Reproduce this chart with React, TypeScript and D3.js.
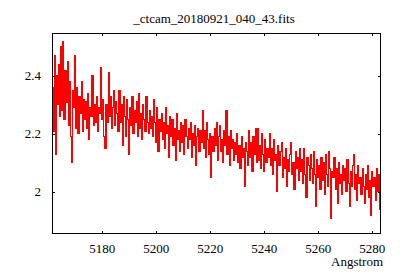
import React, { useMemo } from "react";
import * as d3 from "d3";

const TITLE = "_ctcam_20180921_040_43.fits";
const X_LABEL = "Angstrom";
const X_START = 5161.6;
const X_STEP = 0.4;
const X_DOMAIN = [5161.4, 5283.2];
const Y_DOMAIN = [1.855, 2.548];
const X_TICKS = [5180, 5200, 5220, 5240, 5260, 5280];
const Y_TICKS = [2.0, 2.2, 2.4];

const FLUX = [
  2.36, 2.21, 2.47, 2.13, 2.40, 2.30, 2.44, 2.26, 2.50, 2.28,
  2.52, 2.25, 2.42, 2.31, 2.45, 2.23, 2.38, 2.19, 2.10, 2.35,
  2.29, 2.47, 2.22, 2.36, 2.20, 2.33, 2.27, 2.38, 2.21, 2.32,
  2.25, 2.31, 2.22, 2.34, 2.18, 2.29, 2.26, 2.40, 2.23, 2.30,
  2.24, 2.33, 2.21, 2.29, 2.27, 2.43, 2.25, 2.32, 2.19, 2.15,
  2.30, 2.24, 2.41, 2.26, 2.33, 2.22, 2.29, 2.35, 2.23, 2.31,
  2.27, 2.21, 2.35, 2.24, 2.30, 2.16, 2.33, 2.26, 2.19, 2.32,
  2.25, 2.13, 2.29, 2.23, 2.33, 2.20, 2.28, 2.24, 2.31, 2.19,
  2.34, 2.22, 2.27, 2.18, 2.30, 2.25, 2.21, 2.33, 2.24, 2.20,
  2.28, 2.22, 2.26, 2.19, 2.32, 2.24, 2.17, 2.29, 2.14, 2.25,
  2.21, 2.27, 2.18, 2.24, 2.15, 2.29, 2.20, 2.23, 2.12, 2.26,
  2.19, 2.25, 2.16, 2.22, 2.11, 2.27, 2.18, 2.21, 2.14, 2.24,
  2.17, 2.23, 2.13, 2.25, 2.19, 2.15, 2.22, 2.18, 2.24, 2.12,
  2.20, 2.16, 2.23, 2.09, 2.19, 2.22, 2.14, 2.21, 2.17, 2.28,
  2.15, 2.21, 2.12, 2.24, 2.18, 2.13, 2.20, 2.05, 2.19, 2.14,
  2.22, 2.16, 2.24, 2.11, 2.19, 2.23, 2.14, 2.18, 2.10, 2.21,
  2.16, 2.28, 2.13, 2.19, 2.09, 2.21, 2.15, 2.18, 2.11, 2.17,
  2.13, 2.20, 2.10, 2.16, 2.08, 2.19, 2.12, 2.15, 2.02, 2.17,
  2.14, 2.09, 2.21, 2.12, 2.17, 2.07, 2.19, 2.13, 2.22, 2.10,
  2.22, 2.11, 2.16, 2.08, 2.20, 2.13, 2.07, 2.18, 2.10, 2.15,
  2.12, 2.20, 2.09, 2.15, 2.06, 2.18, 2.11, 2.13, 2.00, 2.16,
  2.09, 2.14, 2.17, 2.05, 2.12, 2.08, 2.15, 2.02, 2.11, 2.07,
  2.13, 2.17, 2.06, 2.10, 2.01, 2.14, 2.08, 2.12, 2.04, 2.15,
  2.07, 2.11, 2.03, 2.15, 2.06, 1.98, 2.12, 2.09, 2.04, 2.13,
  2.08, 2.03, 2.14, 2.06, 1.95, 2.11, 2.05, 2.09, 2.01, 2.12,
  2.04, 2.10, 1.99, 2.13, 2.06, 2.02, 2.14, 2.08, 1.91, 2.07,
  2.05, 2.12, 2.01, 2.08, 1.96, 2.10, 2.03, 2.06, 1.99, 2.09,
  2.04, 2.08, 2.00, 2.11, 2.03, 1.95, 2.07, 2.02, 2.09, 2.13,
  2.01, 2.06, 1.97, 2.09, 2.03, 2.05, 1.99, 2.08, 2.02, 1.96,
  2.06, 2.01, 2.09, 1.98, 2.04, 1.92, 2.07, 2.02, 2.05, 1.97,
  2.08, 2.00, 2.06, 1.94, 1.90,
];

const W = 400;
const H = 280;
const L = 52;
const R = 381;
const T = 33;
const B = 234;
const FONT = "'Liberation Serif', serif";
const FS = 13;
const TICK = 3;

export default function App() {
  const x = d3.scaleLinear().domain(X_DOMAIN).range([L, R]);
  const y = d3.scaleLinear().domain(Y_DOMAIN).range([B, T]);
  const path = useMemo(() => {
    const pts: [number, number][] = FLUX.map((v, i) => [X_START + i * X_STEP, v]);
    return d3
      .line<[number, number]>()
      .x((d) => x(d[0]))
      .y((d) => y(d[1]))
      .curve(d3.curveStep)(pts);
  }, []);

  return (
    <svg
      width={W}
      height={H}
      style={{ position: "fixed", left: 0, top: 0, background: "#fff" }}
      fontFamily={FONT}
    >
      <rect width={W} height={H} fill="#fff" />
      <defs>
        <clipPath id="plotclip">
          <rect x={L} y={T} width={R - L} height={B - T} />
        </clipPath>
      </defs>
      <path
        d={path || ""}
        fill="none"
        stroke="#ff0000"
        strokeWidth={1.1}
        shapeRendering="crispEdges"
        clipPath="url(#plotclip)"
      />
      <rect
        x={L + 0.5}
        y={T + 0.5}
        width={R - L - 1}
        height={B - T - 1}
        fill="none"
        stroke="#000"
        strokeWidth={1}
        shapeRendering="crispEdges"
      />
      {X_TICKS.map((t) => {
        const px = Math.round(x(t)) + 0.5;
        return (
          <g key={"x" + t}>
            <line x1={px} x2={px} y1={B} y2={B - TICK} stroke="#000" shapeRendering="crispEdges" />
            <line x1={px} x2={px} y1={T} y2={T + TICK} stroke="#000" shapeRendering="crispEdges" />
            <text x={x(t)} y={252.5} textAnchor="middle" fontSize={FS} fill="#000">
              {t}
            </text>
          </g>
        );
      })}
      {Y_TICKS.map((t) => {
        const py = Math.round(y(t)) + 0.5;
        return (
          <g key={"y" + t}>
            <line x1={L} x2={L + TICK} y1={py} y2={py} stroke="#000" shapeRendering="crispEdges" />
            <line x1={R} x2={R - TICK} y1={py} y2={py} stroke="#000" shapeRendering="crispEdges" />
            <text
              x={41}
              y={y(t) + 4.5}
              textAnchor="end"
              fontSize={FS}
              fill="#000"
            >
              {d3.format(".1f")(t).replace(/\.0$/, "")}
            </text>
          </g>
        );
      })}
      <text x={214} y={23} textAnchor="middle" fontSize={FS} fill="#000">
        {TITLE}
      </text>
      <text x={383} y={266} textAnchor="end" fontSize={FS} fill="#000">
        {X_LABEL}
      </text>
    </svg>
  );
}
